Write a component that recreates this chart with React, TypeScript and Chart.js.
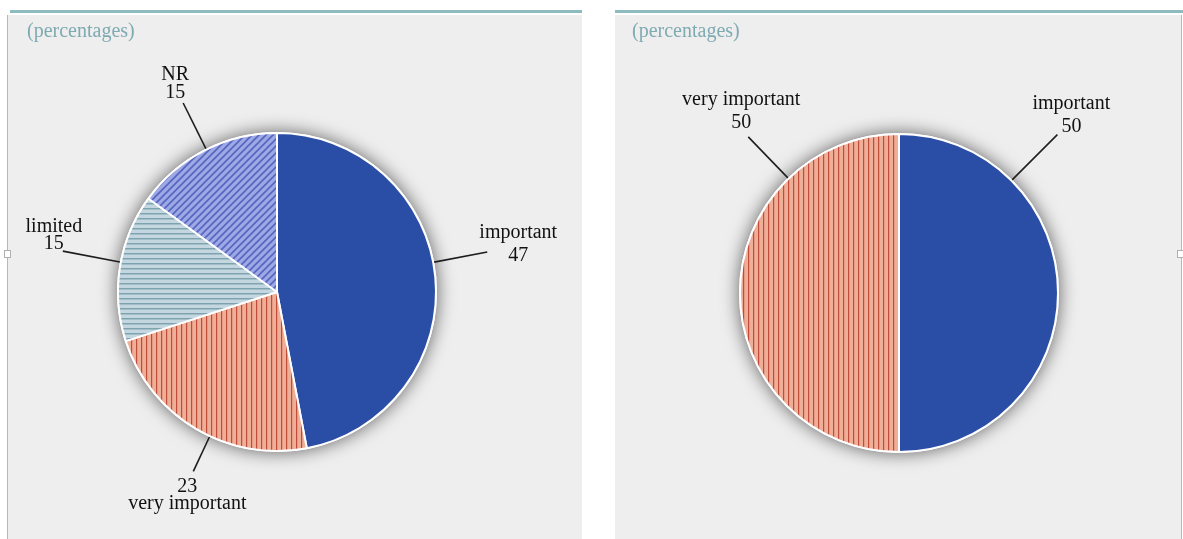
import React, { useEffect, useRef } from 'react';
import { Chart, registerables } from 'chart.js';

Chart.register(...registerables);

// ---- data ----
const leftCategories = ['important', 'very important', 'limited', 'NR'];
const leftValues = [47, 23, 15, 15];
const rightCategories = ['important', 'very important'];
const rightValues = [50, 50];
const unitNote = '(percentages)';

// ---- styling ----
type Fill = 'solid' | 'vertical' | 'horizontal' | 'diagonal';
const sliceFills: Record<string, Fill> = {
  important: 'solid',
  'very important': 'vertical',
  limited: 'horizontal',
  NR: 'diagonal',
};

// leader-line / text placement for each slice label
type LabelLayout = {
  shift: number; // degrees added to the slice mid-angle
  len: number; // leader length beyond the rim
  dx: number; // text centre relative to leader end
  dy: number; // first baseline relative to leader end
  gap: number; // baseline spacing
  valueFirst?: boolean;
};

const leftLayout: LabelLayout[] = [
  { shift: -5.35, len: 54, dx: 31, dy: -14, gap: 23 },
  { shift: -5.6, len: 38, dx: -6, dy: 21, gap: 17, valueFirst: true },
  { shift: 1.8, len: 58, dx: -9, dy: -19, gap: 17 },
  { shift: 0.6, len: 51, dx: -8, dy: -23, gap: 18 },
];
const rightLayout: LabelLayout[] = [
  { shift: -45, len: 64, dx: 14, dy: -26, gap: 23 },
  { shift: 46, len: 57, dx: -7, dy: -32, gap: 23 },
];

const SERIF = '"Liberation Serif", "Times New Roman", serif';
const PANEL_BG = '#eeeeee';
const TEAL = '#8dbcc0';

function makeFill(kind: Fill): string | CanvasPattern {
  if (kind === 'solid') return '#2a4ea6';
  const c = document.createElement('canvas');
  const g = c.getContext('2d')!;
  if (kind === 'vertical') {
    c.width = 5;
    c.height = 4;
    g.fillStyle = '#eeae98';
    g.fillRect(0, 0, 5, 4);
    g.fillStyle = '#c04c3a';
    g.fillRect(3, 0, 1, 4);
    g.fillStyle = '#e59a84';
    g.fillRect(4, 0, 1, 4);
  } else if (kind === 'horizontal') {
    c.width = 4;
    c.height = 5;
    g.fillStyle = '#c4d6df';
    g.fillRect(0, 0, 4, 5);
    g.fillStyle = '#7fa3ae';
    g.fillRect(0, 3, 4, 1);
    g.fillStyle = '#a2bec8';
    g.fillRect(0, 4, 4, 1);
  } else {
    const s = 7;
    c.width = s;
    c.height = s;
    g.fillStyle = '#9da9e6';
    g.fillRect(0, 0, s, s);
    g.strokeStyle = '#5865bf';
    g.lineWidth = 1.6;
    g.beginPath();
    g.moveTo(-1, s + 1);
    g.lineTo(s + 1, -1);
    g.moveTo(-1, 1);
    g.lineTo(1, -1);
    g.moveTo(s - 1, s + 1);
    g.lineTo(s + 1, s - 1);
    g.stroke();
  }
  return g.createPattern(c, 'repeat')!;
}

// soft drop shadow under the whole pie
const shadowPlugin = {
  id: 'pieShadow',
  beforeDatasetsDraw(chart: any) {
    const meta = chart.getDatasetMeta(0);
    const el = meta.data[0];
    if (!el) return;
    const { x, y, outerRadius } = el.getProps(['x', 'y', 'outerRadius'], true);
    const ctx = chart.ctx;
    ctx.save();
    ctx.shadowColor = 'rgba(0,0,0,0.6)';
    ctx.shadowBlur = 18;
    ctx.fillStyle = '#ffffff';
    ctx.beginPath();
    ctx.arc(x, y, outerRadius + 1, 0, Math.PI * 2);
    ctx.fill();
    ctx.restore();
  },
};

// leader lines, category names and values, plus the unit note
const labelPlugin = {
  id: 'pieLabels',
  afterDraw(chart: any, _args: any, opts: any) {
    const ctx: CanvasRenderingContext2D = chart.ctx;
    const meta = chart.getDatasetMeta(0);
    const labels: string[] = chart.data.labels;
    const values: number[] = chart.data.datasets[0].data;
    const layout: LabelLayout[] = opts.layout;
    ctx.save();
    meta.data.forEach((el: any, i: number) => {
      const L = layout[i];
      if (!L) return;
      const { x, y, startAngle, endAngle, outerRadius } = el.getProps(
        ['x', 'y', 'startAngle', 'endAngle', 'outerRadius'],
        true
      );
      const a = (startAngle + endAngle) / 2 + (L.shift * Math.PI) / 180;
      const r0 = outerRadius + 1;
      const x0 = x + Math.cos(a) * r0;
      const y0 = y + Math.sin(a) * r0;
      const x1 = x + Math.cos(a) * (r0 + L.len);
      const y1 = y + Math.sin(a) * (r0 + L.len);
      ctx.strokeStyle = '#1e1e1e';
      ctx.lineWidth = 1.6;
      ctx.beginPath();
      ctx.moveTo(x0, y0);
      ctx.lineTo(x1, y1);
      ctx.stroke();

      const lines = L.valueFirst
        ? [String(values[i]), labels[i]]
        : [labels[i], String(values[i])];
      ctx.fillStyle = '#111111';
      ctx.font = `20px ${SERIF}`;
      ctx.textAlign = 'center';
      ctx.textBaseline = 'alphabetic';
      lines.forEach((t, k) => {
        ctx.fillText(t, x1 + L.dx, y1 + L.dy + k * L.gap);
      });
    });
    ctx.fillStyle = '#7eaab2';
    ctx.font = `20px ${SERIF}`;
    ctx.textAlign = 'left';
    ctx.textBaseline = 'alphabetic';
    ctx.fillText(opts.title, opts.titleX, opts.titleY);
    ctx.restore();
  },
};

type PieProps = {
  categories: string[];
  values: number[];
  layout: LabelLayout[];
  width: number;
  height: number;
  padding: { left: number; right: number; top: number; bottom: number };
  titleX: number;
  titleY: number;
};

function PiePanel(props: PieProps) {
  const ref = useRef<HTMLCanvasElement>(null);
  useEffect(() => {
    const canvas = ref.current;
    if (!canvas) return;
    const fills = props.categories.map((c) => makeFill(sliceFills[c]));
    const chart = new Chart(canvas, {
      type: 'pie',
      data: {
        labels: props.categories,
        datasets: [
          {
            data: props.values,
            backgroundColor: fills as any,
            borderColor: '#ffffff',
            borderWidth: 2,
            radius: 159,
          } as any,
        ],
      },
      options: {
        responsive: false,
        animation: false,
        events: [],
        layout: { padding: props.padding },
        plugins: {
          legend: { display: false },
          tooltip: { enabled: false },
          pieLabels: {
            layout: props.layout,
            title: unitNote,
            titleX: props.titleX,
            titleY: props.titleY,
          },
        } as any,
      },
      plugins: [shadowPlugin, labelPlugin],
    });
    return () => chart.destroy();
  }, []);
  return (
    <canvas
      ref={ref}
      width={props.width}
      height={props.height}
      style={{ display: 'block', width: props.width, height: props.height }}
    />
  );
}

const handleStyle = (left: number): React.CSSProperties => ({
  position: 'absolute',
  left,
  top: 250,
  width: 5,
  height: 6,
  background: '#ffffff',
  border: '1px solid #b0b0b0',
});

export default function App() {
  return (
    <div
      style={{
        position: 'absolute',
        left: 0,
        top: 0,
        width: 1183,
        height: 539,
        overflow: 'hidden',
        background: '#ffffff',
      }}
    >
      {/* left panel */}
      <div style={{ position: 'absolute', left: 10, top: 10, width: 572, height: 3, background: TEAL }} />
      <div
        style={{
          position: 'absolute',
          left: 7,
          top: 15,
          width: 574,
          height: 524,
          background: PANEL_BG,
          borderLeft: '1px solid #b8b8b8',
        }}
      >
        <PiePanel
          categories={leftCategories}
          values={leftValues}
          layout={leftLayout}
          width={574}
          height={524}
          padding={{ left: 0, right: 36, top: 30, bottom: 0 }}
          titleX={19}
          titleY={22}
        />
      </div>
      <div style={handleStyle(4)} />

      {/* right panel */}
      <div style={{ position: 'absolute', left: 615, top: 10, width: 568, height: 3, background: TEAL }} />
      <div
        style={{
          position: 'absolute',
          left: 615,
          top: 15,
          width: 566,
          height: 524,
          background: PANEL_BG,
          borderRight: '1px solid #b8b8b8',
        }}
      >
        <PiePanel
          categories={rightCategories}
          values={rightValues}
          layout={rightLayout}
          width={566}
          height={524}
          padding={{ left: 2, right: 0, top: 32, bottom: 0 }}
          titleX={17}
          titleY={22}
        />
      </div>
      <div style={handleStyle(1177)} />
    </div>
  );
}
